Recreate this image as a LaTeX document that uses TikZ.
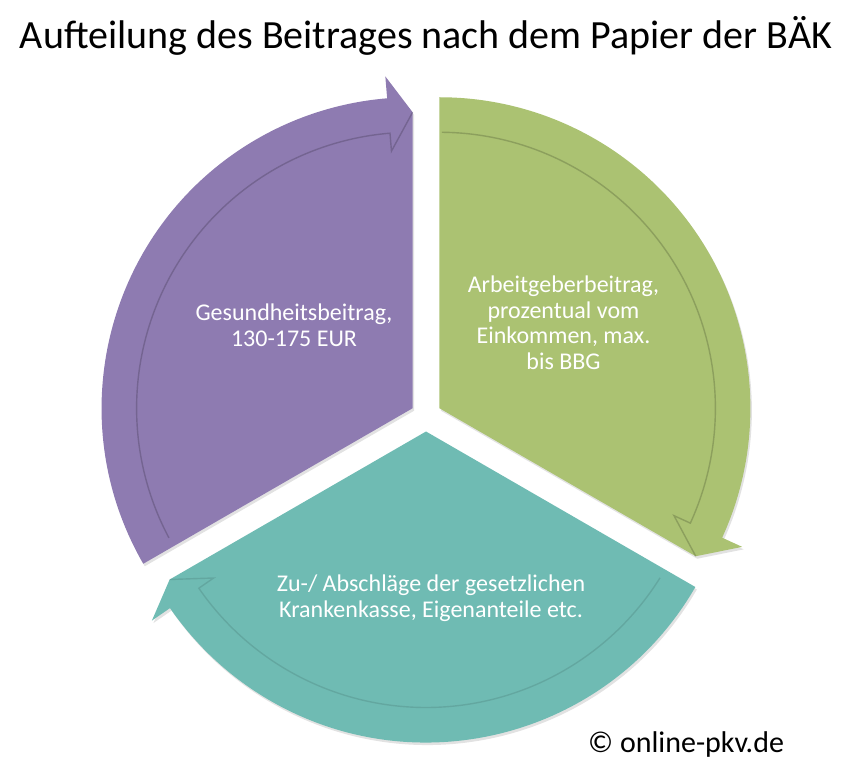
\documentclass[tikz,border=0pt]{standalone}
\usepackage{fontspec}
\setmainfont{Carlito}
\definecolor{segpurple}{RGB}{142,123,177}
\definecolor{seggreen}{RGB}{171,194,114}
\definecolor{segteal}{RGB}{111,187,179}
\begin{document}
\begin{tikzpicture}[x=1pt,y=1pt,
  segshadow/.style={fill=black!25,opacity=0.45},
  bevel/.style={draw=black,opacity=0.18,line width=1.4pt},
  seglabel/.style={text=white,align=center,inner sep=0pt,font=\fontsize{24}{25.5}\selectfont}]
\useasboundingbox (0,0) rectangle (858,782);
% purple segment
\begin{scope}[shift={(412.6,373.75)}]
  \fill[segshadow,shift={(1.5,-2.5)}] (0,0) -- (210:311) arc[start angle=210,end angle=94.7,radius=311] -- (94.7:333) -- (90:296) -- cycle;
  \fill[segpurple] (0,0) -- (210:311) arc[start angle=210,end angle=94.7,radius=311] -- (94.7:333) -- (90:296) -- cycle;
  \draw[bevel] (208:276) arc[start angle=208,end angle=94.7,radius=276] -- (94.7:258) -- (90:296);
\end{scope}
% green segment
\begin{scope}[shift={(439.4,373.75)}]
  \fill[segshadow,shift={(1.5,-2.5)}] (0,0) -- (90:311) arc[start angle=90,end angle=-24.6,radius=311] -- (-24.6:333) -- (-30:296) -- cycle;
  \fill[seggreen] (0,0) -- (90:311) arc[start angle=90,end angle=-24.6,radius=311] -- (-24.6:333) -- (-30:296) -- cycle;
  \draw[bevel] (89.5:276) arc[start angle=89.5,end angle=-24.6,radius=276] -- (-24.6:258) -- (-30:296);
\end{scope}
% teal segment
\begin{scope}[shift={(426,350.5)}]
  \fill[segshadow,shift={(1.5,-2.5)}] (0,0) -- (-30:311) arc[start angle=-30,end angle=-145.4,radius=311] -- (-145.4:333) -- (-150:296) -- cycle;
  \fill[segteal] (0,0) -- (-30:311) arc[start angle=-30,end angle=-145.4,radius=311] -- (-145.4:333) -- (-150:296) -- cycle;
  \draw[bevel,opacity=0.1] (-32:276) arc[start angle=-32,end angle=-145.4,radius=276] -- (-145.4:258) -- (-150:296);
\end{scope}
% labels
\node[seglabel] (lpurple) at (294,456.5) {Gesundheitsbeitrag,\\130-175 EUR};
\node[seglabel] (lgreen) at (563.5,459) {Arbeitgeberbeitrag,\\prozentual vom\\Einkommen, max.\\bis BBG};
\node[seglabel] (lteal) at (431,184) {Zu-/ Abschläge der gesetzlichen\\Krankenkasse, Eigenanteile etc.};
\node[anchor=base,inner sep=0pt,font=\fontsize{40}{44}\selectfont] (title) at (426,733) {Aufteilung des Beitrages nach dem Papier der BÄK};
\node[anchor=base west,inner sep=0pt,font=\fontsize{30}{34}\selectfont] (copy) at (588,30) {© online-pkv.de};
\end{tikzpicture}
\end{document}
